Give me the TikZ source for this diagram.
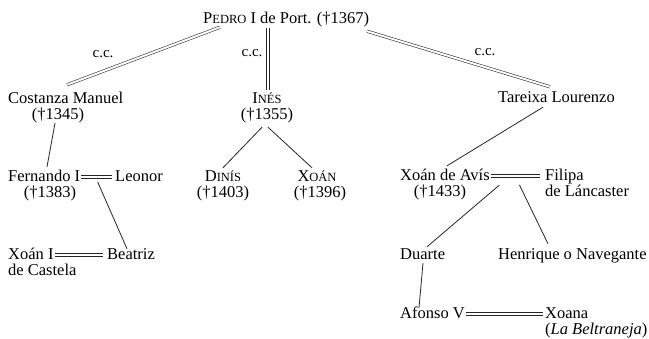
\documentclass[tikz,border=0pt]{standalone}
\usepackage{fontspec}
\setmainfont{Liberation Serif}
\usetikzlibrary{calc}
\newcommand\smc[1]{{\fontsize{12.5}{14}\selectfont #1}}
\tikzset{
  txt/.style={inner sep=0pt, text height=11pt, text depth=3pt, font=\fontsize{16.5}{19}\selectfont},
  lw/.style={txt, anchor=base west},
  lc/.style={txt, anchor=base},
  ccl/.style={inner sep=0pt, anchor=base, font=\fontsize{15}{17}\selectfont},
  ln/.style={line width=0.8pt, draw=black!85},
  dbl/.style={draw=black!85, double=white, double distance=2pt, line width=0.55pt},
}
\begin{document}
\begin{tikzpicture}[x=1pt,y=-1pt]
\useasboundingbox[fill=white] (0,0) rectangle (649,338);
% nodes
\node[lw] (pedro) at (203,23) {P\smc{EDRO} I de Port. (†1367)};
\node[ccl] (cc1) at (103,57) {c.c.};
\node[ccl] (cc2) at (252,56) {c.c.};
\node[ccl] (cc3) at (485,55) {c.c.};
\node[lw] (cost) at (8,103) {Costanza Manuel};
\node[lc] (costd) at (58,119) {(†1345)};
\node[lc] (ines) at (267,103) {I\smc{NÉS}};
\node[lc] (inesd) at (267,119) {(†1355)};
\node[lw] (tar) at (498,102) {Tareixa Lourenzo};
\node[lw] (fern) at (8,181) {Fernando I};
\node[lc] (fernd) at (50,197) {(†1383)};
\node[lw] (leon) at (115,181) {Leonor};
\node[lc] (dinis) at (223,181) {D\smc{INÍS}};
\node[lc] (dinisd) at (223,197) {(†1403)};
\node[lc] (xoan) at (317,181) {X\smc{OÁN}};
\node[lc] (xoand) at (320,197) {(†1396)};
\node[lw] (avis) at (400,180) {Xoán de Avís};
\node[lc] (avisd) at (440,196) {(†1433)};
\node[lw] (fil) at (545,180) {Filipa};
\node[lw] (fil2) at (545,196) {de Láncaster};
\node[lw] (xoan1) at (8,259) {Xoán I};
\node[lw] (xoan1b) at (8,275) {de Castela};
\node[lw] (beat) at (107,259) {Beatriz};
\node[lw] (duarte) at (400,259) {Duarte};
\node[lw] (henr) at (498,259) {Henrique o Navegante};
\node[lw] (afonso) at (400,318) {Afonso V};
\node[lw] (xoana) at (545,318) {Xoana};
\node[lw] (xoanab) at (545,334) {(\textit{La Beltraneja})};
% marriage points
\coordinate (m1) at ($(fern.east)!0.5!(leon.west)$);
\coordinate (m2) at ($(avis.east)!0.5!(fil.west)$);
% connectors
\draw[dbl] ($(pedro.south west)+(17,1)$) -- ($(cost.north west)+(59,-7)$);
\draw[dbl] ($(pedro.south west)+(65,2)$) -- ($(ines.north)+(1,-2)$);
\draw[dbl] ($(pedro.south west)+(164,5)$) -- ($(tar.north west)+(52,-4)$);
\draw[ln] ($(costd.south)+(-3,1)$) -- ($(fern.north west)+(39,-3)$);
\draw[dbl, shorten <=1pt, shorten >=3pt] (fern.east) -- (leon.west);
\draw[ln] ($(m1)+(0,5)$) -- ($(beat.north west)+(20,1)$);
\draw[dbl, shorten <=1pt, shorten >=4pt] (xoan1.east) -- (beat.west);
\draw[ln] ($(inesd.south)+(-5,5)$) -- ($(dinis.north)+(0,-2)$);
\draw[ln] ($(inesd.south)+(1,5)$) -- ($(xoan.north)+(-5,-2)$);
\draw[ln] ($(tar.south west)+(45,2)$) -- ($(avis.north west)+(47,-3)$);
\draw[dbl, shorten <=1pt, shorten >=5pt] (avis.east) -- (fil.west);
\draw[ln] ($(m2)+(-18,9)$) -- ($(duarte.north west)+(27,-1)$);
\draw[ln] ($(m2)+(2,9)$) -- ($(henr.north west)+(50,-4)$);
\draw[ln] ($(duarte.south west)+(23,1)$) -- ($(afonso.north west)+(19,1)$);
\draw[dbl, shorten <=1pt, shorten >=2pt] (afonso.east) -- (xoana.west);
\end{tikzpicture}
\end{document}
